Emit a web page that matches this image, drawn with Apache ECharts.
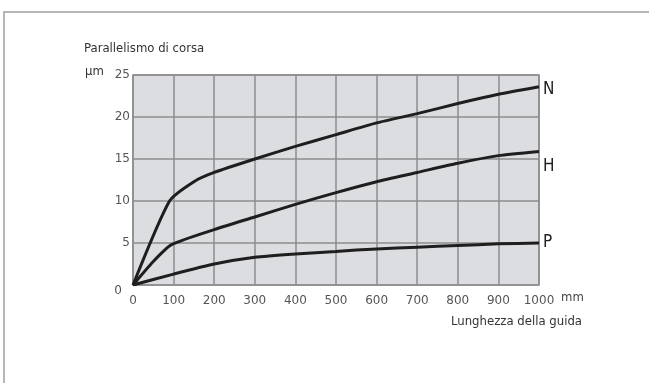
<!DOCTYPE html>
<html>
<head>
<meta charset="utf-8">
<script src="https://cdn.jsdelivr.net/npm/echarts@6/dist/echarts.min.js"></script>
<style>
  html, body { margin: 0; padding: 0; background: #fff; }
  #chart { width: 649px; height: 383px; }
</style>
</head>
<body>
<div id="chart"></div>
<script>
// Parallelismo di corsa vs lunghezza della guida
// values (x in mm, y in µm)
const seriesNames = ["N", "H", "P"];
const curveN = [[0, 0], [90, 10], [150, 12.3], [200, 13.4], [300, 15.0], [400, 16.5], [500, 17.9], [600, 19.3], [700, 20.4], [800, 21.6], [900, 22.7], [1000, 23.6]];
const curveH = [[0, 0], [50, 2.8], [95, 4.8], [200, 6.6], [300, 8.1], [400, 9.6], [500, 11.0], [600, 12.3], [700, 13.4], [800, 14.5], [900, 15.4], [1000, 15.9]];
const curveP = [[0, 0], [100, 1.3], [200, 2.5], [300, 3.3], [400, 3.7], [500, 4.0], [600, 4.3], [700, 4.5], [800, 4.7], [900, 4.9], [1000, 5.0]];
const endLabelOffsets = [[0, 3], [0, 15], [0, 0]];

const narrow = "'Liberation Sans Narrow', 'DejaVu Sans Condensed', sans-serif";
const numFont = "'DejaVu Sans', sans-serif";
const ink = "#1e1e1e";

const chart = echarts.init(document.getElementById("chart"), null, { renderer: "canvas" });

function curve(name, data, offset) {
  return {
    name: name,
    type: "line",
    data: data,
    smooth: 0.2,
    showSymbol: false,
    lineStyle: { color: ink, width: 3 },
    endLabel: {
      show: true,
      formatter: "{a}",
      distance: 4,
      offset: offset,
      fontFamily: narrow,
      fontSize: 17,
      color: "#222",
    },
    silent: true,
  };
}

const option = {
  animation: false,
  backgroundColor: "#fff",
  grid: {
    left: 133,
    right: 110,
    top: 75,
    height: 210,
    show: true,
    backgroundColor: "#dcdde0",
    borderColor: "#8c8c8e",
    borderWidth: 1.5,
  },
  xAxis: {
    type: "value",
    min: 0,
    max: 1000,
    interval: 100,
    axisLine: { show: false },
    axisTick: { show: false },
    splitLine: { lineStyle: { color: "#8c8c8e", width: 1.5 } },
    axisLabel: { margin: 10, fontFamily: numFont, fontSize: 12, color: "#555", formatter: (v) => String(v) },
  },
  yAxis: {
    type: "value",
    min: 0,
    max: 25,
    interval: 5,
    axisLine: { show: false },
    axisTick: { show: false },
    splitLine: { lineStyle: { color: "#8c8c8e", width: 1.5 } },
    axisLabel: {
      margin: 3,
      fontFamily: numFont,
      fontSize: 12,
      color: "#555",
      formatter: (v) => (v === 0 ? "{z|0}" : String(v)),
      rich: { z: { padding: [12, 8, 0, 0], fontFamily: numFont, fontSize: 12, color: "#555" } },
    },
  },
  graphic: [
    { type: "rect", shape: { x: 3, y: 11, width: 646, height: 2 }, style: { fill: "#b6b6ba" } },
    { type: "rect", shape: { x: 3, y: 11, width: 2, height: 372 }, style: { fill: "#b6b6ba" } },
    { type: "text", left: 84, top: 42, style: { text: "Parallelismo di corsa", font: "13px " + narrow, fill: "#333" } },
    { type: "text", left: 85, top: 65, style: { text: "µm", font: "13px " + narrow, fill: "#333" } },
    { type: "text", left: 561, top: 291, style: { text: "mm", font: "13px " + narrow, fill: "#444" } },
    { type: "text", right: 67, top: 315, style: { text: "Lunghezza della guida", font: "13px " + narrow, fill: "#333" } },
  ],
  series: [
    curve(seriesNames[0], curveN, endLabelOffsets[0]),
    curve(seriesNames[1], curveH, endLabelOffsets[1]),
    curve(seriesNames[2], curveP, endLabelOffsets[2]),
  ],
};

chart.setOption(option);
</script>
</body>
</html>
